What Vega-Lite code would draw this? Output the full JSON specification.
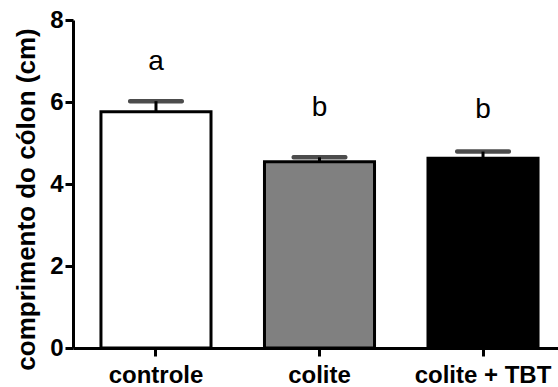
{
  "$schema": "https://vega.github.io/schema/vega-lite/v6.json",
  "width": 485,
  "height": 328,
  "autosize": "none",
  "padding": {"left": 73, "top": 20, "right": 0, "bottom": 39},
  "background": "white",
  "config": {"view": {"stroke": null}, "font": "Liberation Sans"},
  "data": {
    "values": [
      {"grupo": "controle", "media": 5.76, "superior": 6.02, "letra": "a", "pos_letra": 6.78},
      {"grupo": "colite", "media": 4.54, "superior": 4.65, "letra": "b", "pos_letra": 5.66},
      {"grupo": "colite + TBT", "media": 4.63, "superior": 4.79, "letra": "b", "pos_letra": 5.62}
    ]
  },
  "encoding": {
    "x": {
      "field": "grupo",
      "type": "nominal",
      "sort": null,
      "scale": {"range": [0, 493], "paddingInner": 0.327, "paddingOuter": 0.171},
      "axis": {
        "title": null,
        "labelAngle": 0,
        "labelFont": "Liberation Sans",
        "labelFontWeight": "bold",
        "labelFontSize": 24,
        "labelColor": "black",
        "labelPadding": 7,
        "tickSize": 8,
        "tickWidth": 3,
        "tickColor": "black",
        "domainColor": "black",
        "domainWidth": 3
      }
    }
  },
  "layer": [
    {
      "mark": {"type": "bar", "stroke": "black", "strokeWidth": 3},
      "encoding": {
        "y": {
          "field": "media",
          "type": "quantitative",
          "scale": {"domain": [0, 8], "nice": false},
          "axis": {
            "title": "comprimento do cólon (cm)",
            "titleFont": "Liberation Sans",
            "titleFontWeight": "bold",
            "titleFontSize": 26,
            "titleColor": "black",
            "titlePadding": 10,
            "titleY": 179,
            "values": [0, 2, 4, 6, 8],
            "grid": false,
            "labelFont": "Liberation Sans",
            "labelFontWeight": "bold",
            "labelFontSize": 24,
            "labelColor": "black",
            "labelPadding": 2,
            "tickSize": 8,
            "tickWidth": 3,
            "tickColor": "black",
            "domainColor": "black",
            "domainWidth": 3
          }
        },
        "fill": {
          "field": "grupo",
          "type": "nominal",
          "scale": {"domain": ["controle", "colite", "colite + TBT"], "range": ["#ffffff", "#808080", "#000000"]},
          "legend": null
        }
      }
    },
    {
      "mark": {"type": "rule", "strokeWidth": 3, "color": "black"},
      "encoding": {
        "y": {"field": "media", "type": "quantitative"},
        "y2": {"field": "superior"}
      }
    },
    {
      "mark": {"type": "tick", "color": "black", "size": 56, "thickness": 4.5, "cornerRadius": 2},
      "encoding": {
        "y": {"field": "superior", "type": "quantitative"}
      }
    },
    {
      "mark": {"type": "text", "baseline": "alphabetic", "font": "Liberation Sans", "fontSize": 28, "color": "black"},
      "encoding": {
        "y": {"field": "pos_letra", "type": "quantitative"},
        "text": {"field": "letra"}
      }
    }
  ]
}
